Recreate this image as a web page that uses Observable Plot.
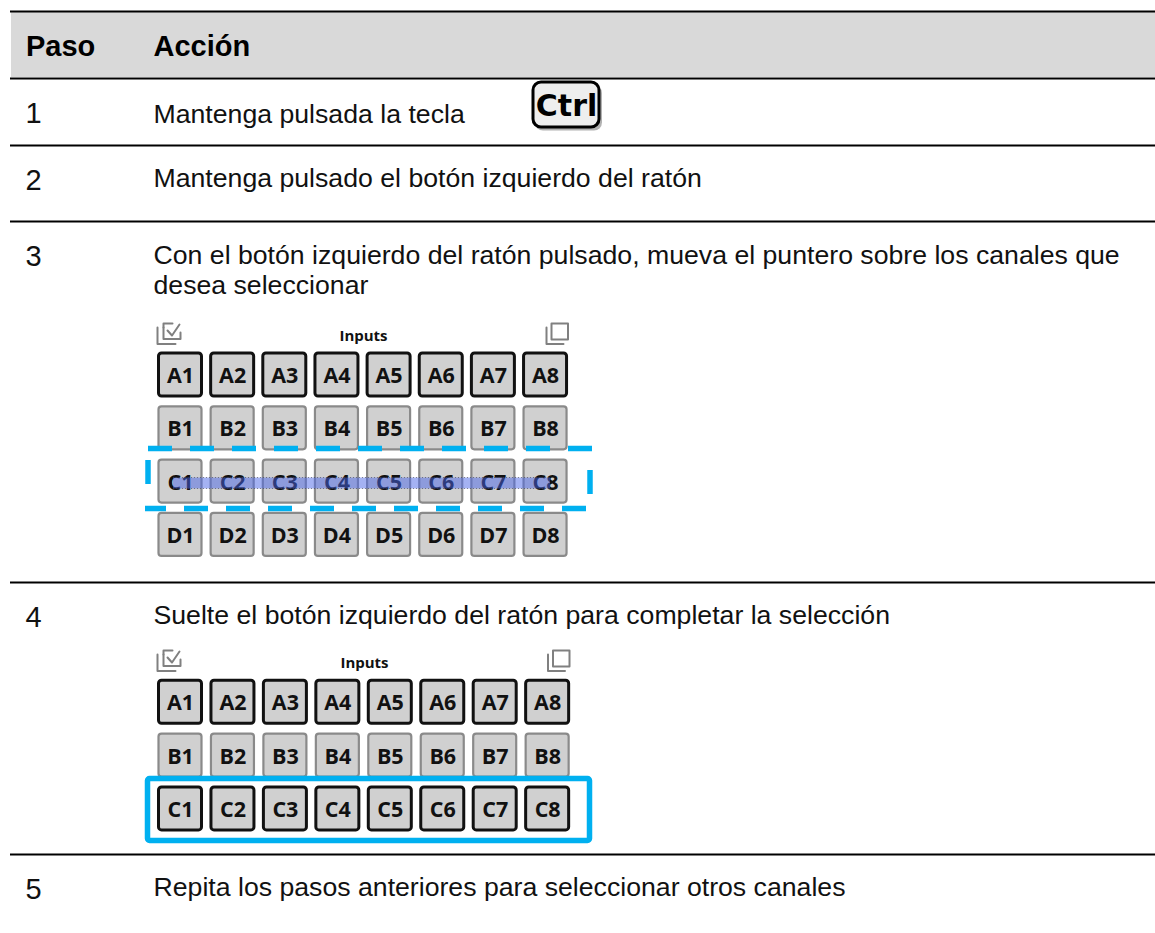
<!DOCTYPE html>
<html><head><meta charset="utf-8">
<script src="https://cdn.jsdelivr.net/npm/d3@7"></script>
<script src="https://cdn.jsdelivr.net/npm/@observablehq/plot@0.6"></script>
<style>html,body{margin:0;padding:0;background:#fff}svg{display:block}</style>
</head><body><div id="c"></div><script>
const stepLabels = ["1","2","3","4","5"];
const actionLines = ["Mantenga pulsada la tecla","Mantenga pulsado el botón izquierdo del ratón",
 "Con el botón izquierdo del ratón pulsado, mueva el puntero sobre los canales que","desea seleccionar",
 "Suelte el botón izquierdo del ratón para completar la selección","Repita los pasos anteriores para seleccionar otros canales"];
const headers = ["Paso","Acción"];
const channelRows = ["A","B","C","D"];
const channelCols = [1,2,3,4,5,6,7,8];
const keyLabel = "Ctrl";
const panelTitle = "Inputs";

const ruleYs=[11,78,145,221,582,854];
const stepPos=[122,189,265,626,898];
const linePos=[122,186.5,263,293,623,895];
const BLUE="#00b0f0", SANS="Liberation Sans", UI="Open Sans";

function panel(x0,y0,px,py,rowIdx,bold){
  const cells=[];
  rowIdx.forEach((ri,k)=>channelCols.forEach((c,i)=>cells.push({
    label:channelRows[ri]+c,bold:bold.includes(channelRows[ri]),
    x1:x0+i*px,x2:x0+i*px+43,y1:y0+k*py,y2:y0+k*py+43})));
  return cells;
}
const cells=[...panel(158.5,353,52.15,53.3,[0,1,2,3],["A"]),...panel(158.5,680.3,52.45,53.3,[0,1,2],["A","C"])];
function icons(ox,oy,dx){
  return [
   {id:ox+"a",pts:[[157,327],[157,343.5],[175,343.5]]},
   {id:ox+"b",pts:[[163,327],[163,338.5],[180,338.5],[180,332]]},
   {id:ox+"b1",pts:[[163,327],[163,323],[172,323]]},
   {id:ox+"c",pts:[[167,330],[171.5,335],[179,324]]},
   {id:ox+"d",pts:[[546,327],[546,343.5],[563,343.5]]},
   {id:ox+"e",pts:[[551,323],[567.5,323],[567.5,339],[551,339],[551,323]]}
  ].flatMap(g=>g.pts.map(p=>({id:g.id,x:p[0]+(g.id.endsWith("d")||g.id.endsWith("e")?dx:0),y:p[1]+oy})));
}
const iconPts=[...icons("p",0,0),...icons("q",327,1.5)];

const plot=Plot.plot({
  width:1155,height:933,margin:0,
  x:{type:"linear",domain:[0,1155],range:[0,1155],axis:null},
  y:{type:"linear",domain:[0,933],range:[0,933],axis:null},
  style:{background:"#fff"},
  marks:[
    Plot.rect([{}],{x1:()=>11,x2:()=>1155,y1:()=>12,y2:()=>77,fill:"#d9d9d9"}),
    Plot.ruleY(ruleYs,{y:d=>d,x1:()=>10,x2:()=>1155,stroke:"#000",strokeWidth:2}),
    Plot.text(headers,{text:d=>d,x:(d,i)=>[25.5,153][i],y:()=>55,fontFamily:SANS,fontWeight:"bold",fontSize:29,textAnchor:"start",lineAnchor:"bottom",fill:"#000"}),
    Plot.text(stepLabels,{text:d=>d,x:()=>25,y:(d,i)=>stepPos[i],fontFamily:SANS,fontSize:29,textAnchor:"start",lineAnchor:"bottom",fill:"#111"}),
    Plot.text(actionLines,{text:d=>d,x:()=>153,y:(d,i)=>linePos[i],fontFamily:SANS,fontSize:26.67,textAnchor:"start",lineAnchor:"bottom",fill:"#111"}),
    // Ctrl key
    Plot.rect([{}],{x1:()=>535,x2:()=>602,y1:()=>85,y2:()=>130.5,fill:"#666",fillOpacity:.5,rx:8}),
    Plot.rect([{}],{x1:()=>533,x2:()=>599,y1:()=>82,y2:()=>127,fill:"#eeeeee",stroke:"#000",strokeWidth:3,rx:8}),
    Plot.text([keyLabel],{text:d=>d,x:()=>566,y:()=>115,fontFamily:"DejaVu Sans",fontWeight:"bold",fontSize:30,textAnchor:"middle",lineAnchor:"bottom",fill:"#000"}),
    // panel titles and icons
    Plot.text([panelTitle,panelTitle],{text:d=>d,x:(d,i)=>[363,364][i],y:(d,i)=>[340,667][i],fontFamily:UI,fontWeight:"bold",fontSize:15,textAnchor:"middle",lineAnchor:"bottom",fill:"#111"}),
    Plot.line(iconPts,{x:"x",y:"y",z:"id",stroke:"#808080",strokeWidth:2,curve:"linear"}),
    // channel buttons
    Plot.rect(cells,{x1:"x1",x2:"x2",y1:"y1",y2:"y2",fill:"#d0d0d0",stroke:d=>d.bold?"#111":"#8a8a8a",strokeWidth:d=>d.bold?3:2.2,rx:3}),
    Plot.text(cells,{text:"label",x:d=>(d.x1+d.x2)/2,y:d=>d.y1+29.5,fontFamily:UI,fontWeight:"bold",fontSize:21.5,textAnchor:"middle",lineAnchor:"bottom",fill:"#111"}),
    // dashed frame (drag selection)
    Plot.ruleY([448],{y:d=>d,x1:()=>148,x2:()=>592,stroke:BLUE,strokeWidth:5.5,strokeDasharray:"24,18"}),
    Plot.ruleY([508],{y:d=>d,x1:()=>145,x2:()=>586,stroke:BLUE,strokeWidth:5.5,strokeDasharray:"24,18",strokeDashoffset:3}),
    Plot.ruleX([147.5],{x:d=>d,y1:()=>460,y2:()=>484,stroke:BLUE,strokeWidth:5.5}),
    Plot.ruleX([589.5],{x:d=>d,y1:()=>470,y2:()=>494,stroke:BLUE,strokeWidth:5.5}),
    Plot.ruleY([482.5],{y:d=>d,x1:()=>173,x2:()=>550,stroke:"#4a66e8",strokeWidth:11,strokeOpacity:.5}),
    Plot.ruleY([477,488],{y:d=>d,x1:()=>173,x2:()=>550,stroke:"#444",strokeWidth:1,strokeDasharray:"1,2",strokeOpacity:.6}),
    // solid frame (finished selection)
    Plot.rect([{}],{x1:()=>147.5,x2:()=>589.5,y1:()=>778.5,y2:()=>840.5,fill:"none",stroke:BLUE,strokeWidth:5.5,rx:2})
  ]
});
document.getElementById("c").appendChild(plot);
</script></body></html>
